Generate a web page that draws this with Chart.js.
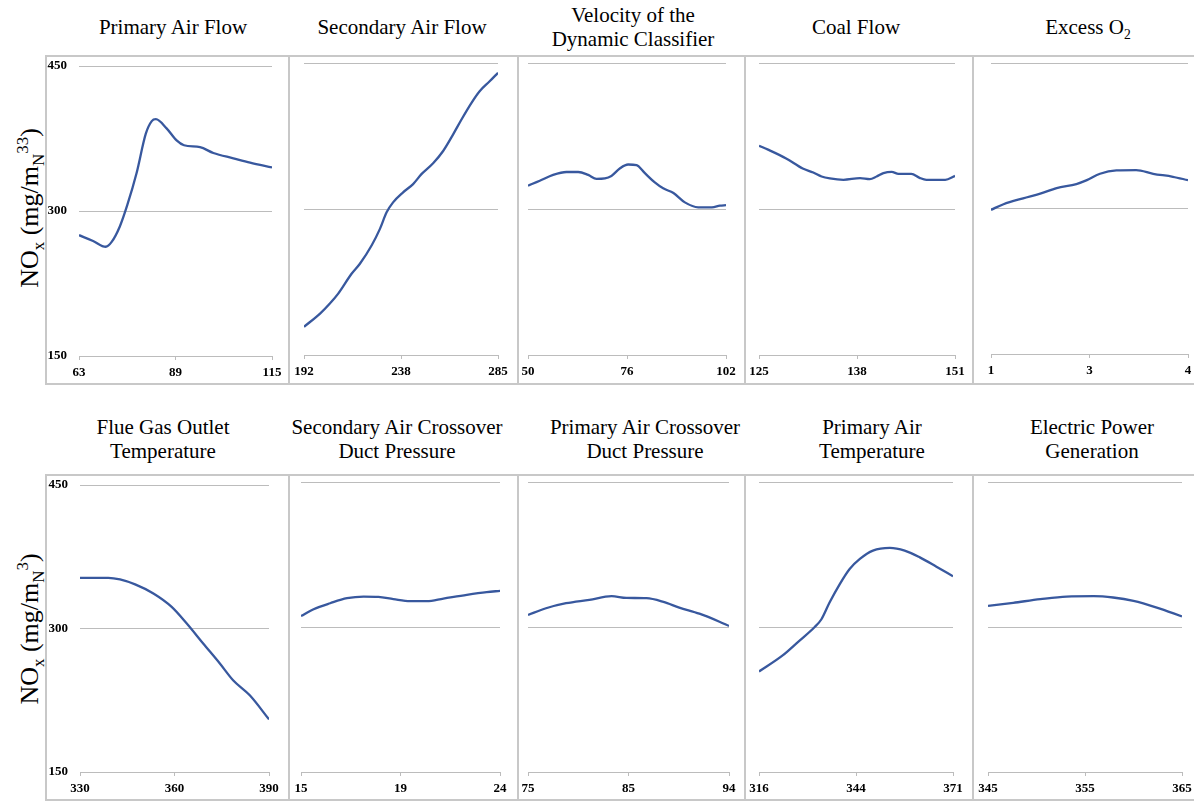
<!DOCTYPE html>
<html>
<head>
<meta charset="utf-8">
<script src="https://cdn.jsdelivr.net/npm/chart.js@4.4.1/dist/chart.umd.min.js"></script>
<style>
  html, body { margin: 0; padding: 0; background: #fff; }
  body { width: 1194px; height: 801px; overflow: hidden; position: relative; font-family: "Liberation Serif", "Times New Roman", serif; }
  .cell { position: absolute; box-sizing: border-box; border-top: 2px solid #c8c8c8; border-bottom: 2px solid #c8c8c8; border-left: 2px solid #c8c8c8; }
  .title { position: absolute; width: 260px; height: 48px; display: flex; align-items: center; justify-content: center; text-align: center; font-size: 21px; line-height: 24px; color: #000; white-space: nowrap; }
  .ytitle { position: absolute; width: 260px; height: 30px; line-height: 30px; text-align: center; font-size: 26px; color: #000; transform: rotate(-90deg); white-space: nowrap; }
  canvas { position: absolute; }
  sub, sup { font-size: 65%; line-height: 0; }
</style>
</head>
<body>
<script>
// titles of the ten small plots
const titles = [
  ["Primary Air Flow"], ["Secondary Air Flow"], ["Velocity of the", "Dynamic Classifier"], ["Coal Flow"], ["Excess O<sub>2</sub>"],
  ["Flue Gas Outlet", "Temperature"], ["Secondary Air Crossover", "Duct Pressure"], ["Primary Air Crossover", "Duct Pressure"],
  ["Primary Air", "Temperature"], ["Electric Power", "Generation"]
];
const yTitles = ["NO<sub>x</sub> (mg/m<sub>N</sub><sup>33</sup>)", "NO<sub>x</sub> (mg/m<sub>N</sub><sup>3</sup>)"];

// tick labels (x: min, middle, max)
const xTicks = [
  ["63", "89", "115"], ["192", "238", "285"], ["50", "76", "102"], ["125", "138", "151"], ["1", "3", "4"],
  ["330", "360", "390"], ["15", "19", "24"], ["75", "85", "94"], ["316", "344", "371"], ["345", "355", "365"]
];
const yTicks = [150, 300, 450];

// NOx response curves
const primaryAirFlowX = [63, 66.8, 70.2, 71.8, 74.0, 76.0, 78.5, 81.0, 82.6, 83.7, 86.6, 89.3, 91.3, 95.6, 99.2, 104.6, 109.1, 115];
const primaryAirFlowY = [275, 269, 263, 268, 284, 306, 339, 380, 393, 395, 385.5, 373, 368, 366, 360, 354.5, 350, 345];

const secondaryAirFlowX = [192, 199.7, 204.4, 208.4, 214.8, 218.8, 224.4, 228.4, 231.6, 234.7, 239.5, 244.3, 248.3, 253.9, 258.7, 263.5, 267.5, 272.3, 276.2, 281.0, 285];
const secondaryAirFlowY = [179, 192.6, 202.9, 213.1, 233.5, 243.8, 262.5, 279.6, 296.6, 306.8, 317.1, 325.6, 335.8, 347, 359.6, 376.7, 392, 409.1, 421, 431.2, 440];

const classifierX = [50, 53.1, 56.6, 60.1, 63.2, 65.8, 68.0, 70.2, 71.9, 74.1, 76.3, 78.5, 80.7, 83.3, 85.5, 88.2, 91.2, 94.7, 98.3, 100.4, 102];
const classifierY = [324, 329, 335, 338, 338, 335, 331, 331.5, 334, 341.6, 345.7, 345, 336.8, 327.3, 321.2, 316.4, 306.8, 301.7, 301.7, 303.4, 304];

const coalFlowX = [125, 126.2, 128.6, 130.8, 132.2, 133.3, 134.4, 136.2, 138.4, 139.7, 140.6, 141.5, 142.6, 143.5, 145.2, 146.3, 147.2, 149.7, 151];
const coalFlowY = [365, 361, 352, 341.6, 337.5, 333.4, 331.4, 330, 331.7, 330.7, 333.4, 336.8, 338.1, 336.1, 336.1, 332, 330, 330, 334];

const excessO2X = [1, 1.19, 1.49, 1.75, 2.0, 2.3, 2.46, 2.66, 2.91, 3.21, 3.47, 3.77, 4];
const excessO2Y = [298.6, 304.4, 310.5, 315.3, 321.1, 325.2, 329.2, 335.8, 339.2, 339.5, 335.8, 332.7, 329.2];

const flueGasX = [330, 339, 342.7, 347.5, 353.3, 359.1, 363.9, 369.1, 374.4, 378.6, 383.9, 390];
const flueGasY = [353, 353, 351.3, 346.1, 336.6, 322.6, 305.2, 284.3, 263.4, 245.9, 230.2, 205];

const secCrossoverX = [15, 15.57, 16.32, 17.08, 17.83, 18.5, 19.18, 19.94, 20.69, 21.44, 22.5, 23.4, 24];
const secCrossoverY = [311.4, 318.4, 324.6, 329.8, 331.5, 331.2, 328.8, 326.7, 326.7, 329.4, 333.3, 336.1, 337.4];

const primCrossoverX = [75, 76.7, 78.6, 80.8, 82.9, 84.3, 86.2, 87.8, 89.3, 91.2, 93.1, 94];
const primCrossoverY = [312.5, 319.4, 324.6, 328.1, 331.9, 330.1, 329.8, 326, 320.1, 313.8, 305.5, 301];

const primAirTempX = [316, 322.8, 327.1, 331.8, 333.7, 336, 338.9, 341.7, 344.6, 348.3, 353.1, 357.3, 361.6, 366.3, 371];
const primAirTempY = [254, 270.9, 284.7, 300, 308, 325.3, 344.4, 360, 370.4, 379, 381.8, 379, 372, 362.4, 352.5];

const powerX = [345, 347.6, 350.4, 353.1, 355.9, 357.9, 360, 362.4, 365];
const powerY = [321.8, 325, 328.8, 331.5, 331.9, 330.5, 327, 320.1, 311];

const series = [
  [primaryAirFlowX, primaryAirFlowY], [secondaryAirFlowX, secondaryAirFlowY], [classifierX, classifierY],
  [coalFlowX, coalFlowY], [excessO2X, excessO2Y], [flueGasX, flueGasY], [secCrossoverX, secCrossoverY],
  [primCrossoverX, primCrossoverY], [primAirTempX, primAirTempY], [powerX, powerY]
];

// layout: plot area [left, right, top, bottom] for every panel
const plots = [
  [79, 272, 66, 356], [304, 498, 63, 355], [528, 726, 63, 355], [759, 955, 63, 355], [991, 1188, 63, 354],
  [80, 269, 485, 772], [301, 500, 482, 772], [528, 729, 482, 772], [759, 953, 482, 772], [988, 1182, 482, 772]
];
const titleX = [173, 402, 633, 856, 1088, 163, 397, 645, 872, 1092];
const titleTop = [3, 415];
const cellX = [45, 288, 517, 744, 972, 1200];
const cellY = [[55, 330], [474, 327]];

const LINE = "rgb(56,88,158)";
const GRID = "#bcbcbc";
const P = 16, TOP = 10, XH = 26, YW = 34;

// frame
for (let row = 0; row < 2; row++) {
  for (let c = 0; c < 5; c++) {
    const d = document.createElement("div");
    d.className = "cell";
    d.style.left = cellX[c] + "px";
    d.style.top = cellY[row][0] + "px";
    d.style.width = (cellX[c + 1] - cellX[c]) + "px";
    d.style.height = cellY[row][1] + "px";
    document.body.appendChild(d);
  }
  const yt = document.createElement("div");
  yt.className = "ytitle";
  yt.innerHTML = yTitles[row];
  yt.style.left = (30 - 130) + "px";
  yt.style.top = ((row === 0 ? 208 : 629) - 15) + "px";
  document.body.appendChild(yt);
}

series.forEach((s, i) => {
  const [l, r, t, b] = plots[i];
  const col = i % 5, row = Math.floor(i / 5);
  const yw = col === 0 ? YW : 0;

  const td = document.createElement("div");
  td.className = "title";
  td.innerHTML = "<div>" + titles[i].join("<br>") + "</div>";
  td.style.left = (titleX[i] - 130) + "px";
  td.style.top = titleTop[row] + "px";
  document.body.appendChild(td);

  const cv = document.createElement("canvas");
  const w = r - l + 2 * P + yw, h = TOP + (b - t) + XH;
  cv.width = w; cv.height = h;
  cv.style.left = (l - P - yw) + "px";
  cv.style.top = (t - TOP) + "px";
  cv.style.width = w + "px"; cv.style.height = h + "px";
  document.body.appendChild(cv);

  const labels = xTicks[i];
  const xmin = parseFloat(labels[0]), xmax = parseFloat(labels[2]);
  const tickFont = { family: "Liberation Serif", size: 13, weight: "bold" };

  new Chart(cv, {
    type: "line",
    data: {
      datasets: [{
        data: s[0].map((x, k) => ({ x: x, y: s[1][k] })),
        borderColor: LINE,
        borderWidth: 2.3,
        pointRadius: 0,
        cubicInterpolationMode: "monotone",
        fill: false
      }]
    },
    options: {
      responsive: false,
      animation: false,
      events: [],
      layout: { padding: { left: P, right: P, top: TOP, bottom: 0 } },
      plugins: { legend: { display: false }, tooltip: { enabled: false } },
      scales: {
        x: {
          type: "linear", min: xmin, max: xmax,
          afterBuildTicks: sc => { sc.ticks = [xmin, (xmin + xmax) / 2, xmax].map(v => ({ value: v })); },
          afterFit: sc => { sc.height = XH; },
          grid: { drawOnChartArea: false, drawTicks: true, tickLength: 4, color: GRID },
          border: { display: true, color: GRID, width: 1 },
          ticks: { autoSkip: false, maxRotation: 0, padding: 5, color: "#000", font: tickFont, callback: (v, k) => labels[k] }
        },
        y: {
          min: 150, max: 450,
          afterBuildTicks: sc => { sc.ticks = yTicks.map(v => ({ value: v })); },
          afterFit: sc => { sc.width = yw; },
          // the gap before the y labels comes from an invisible tick mark
          grid: { color: GRID, drawTicks: col === 0, tickLength: 12, tickColor: "rgba(0,0,0,0)" },
          border: { display: false },
          ticks: { display: col === 0, padding: 0, color: "#000", font: tickFont }
        }
      }
    }
  });
});
</script>
</body>
</html>
